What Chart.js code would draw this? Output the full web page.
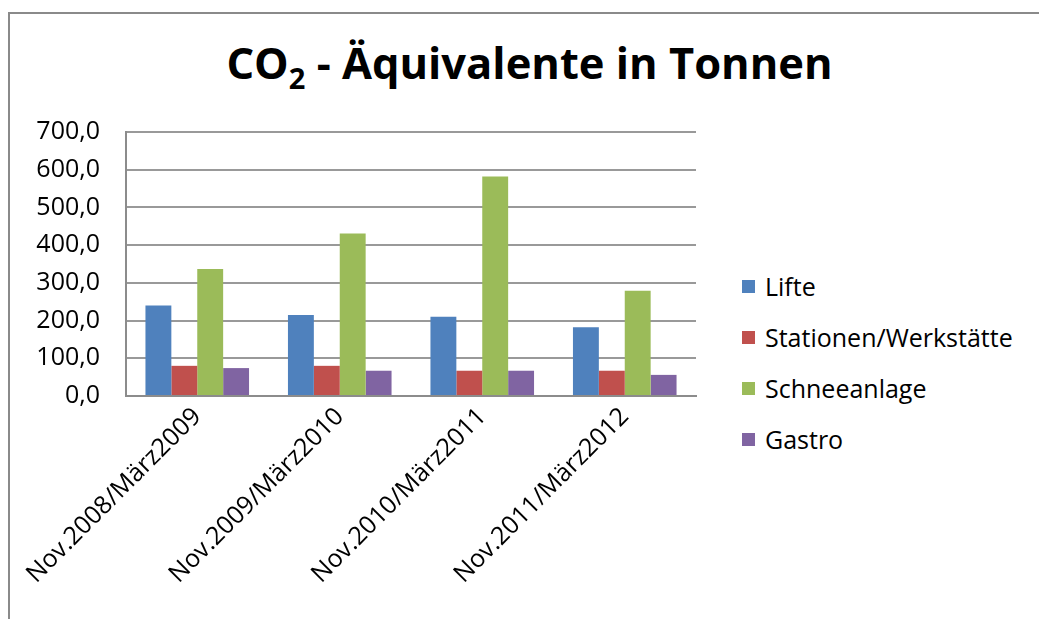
<!DOCTYPE html>
<html>
<head>
<meta charset="utf-8">
<script src="https://cdn.jsdelivr.net/npm/chart.js@4.4.1/dist/chart.umd.min.js"></script>
<style>
  body { margin: 0; background: #fff; }
  #wrap { position: relative; width: 1039px; height: 619px; overflow: hidden; font-family: "Open Sans", sans-serif; }
  #frame { position: absolute; left: 8px; top: 12px; width: 1100px; height: 700px; border-left: 2px solid #8a8a8a; border-top: 2px solid #8a8a8a; }
  #title { position: absolute; left: 20px; width: 1019px; top: 37px; text-align: center; font-weight: bold; font-size: 43.5px; color: #000; line-height: 1.2; }
  #title sub { font-size: 29px; vertical-align: -10px; line-height: 0; }
  #legend { position: absolute; left: 742px; top: 270px; }
  .item { height: 51px; display: flex; align-items: flex-start; font-size: 25px; color: #000; line-height: 32px; }
  .box { width: 13px; height: 13px; margin-right: 10px; margin-top: 10px; }
  canvas { position: absolute; left: 0; top: 0; }
</style>
</head>
<body>
<div id="wrap">
  <div id="frame"></div>
  <div id="title">CO<sub>2</sub> - Äquivalente in Tonnen</div>
  <div id="legend"></div>
  <canvas id="myChart" width="1039" height="619"></canvas>
</div>
<script>
const categories = ['Nov.2008/März2009', 'Nov.2009/März2010', 'Nov.2010/März2011', 'Nov.2011/März2012'];
const seriesNames = ['Lifte', 'Stationen/Werkstätte', 'Schneeanlage', 'Gastro'];
const lifte = [240, 215, 210, 182];
const stationen = [80, 80, 67, 67];
const schneeanlage = [337, 431, 582, 279];
const gastro = [74, 67, 67, 56];
const yTickLabels = ['0,0', '100,0', '200,0', '300,0', '400,0', '500,0', '600,0', '700,0'];
const colors = ['#4F81BD', '#C0504D', '#9BBB59', '#8064A2'];

const values = [lifte, stationen, schneeanlage, gastro];

// legend as html, built from the same arrays
const legendEl = document.getElementById('legend');
seriesNames.forEach((name, i) => {
  const row = document.createElement('div');
  row.className = 'item';
  row.innerHTML = `<div class="box" style="background:${colors[i]}"></div><span>${name}</span>`;
  legendEl.appendChild(row);
});

const ctx = document.getElementById('myChart').getContext('2d');
const myChart = new Chart(ctx, {
  type: 'bar',
  data: {
    labels: categories,
    datasets: seriesNames.map((name, i) => ({
      label: name,
      data: values[i],
      backgroundColor: colors[i],
      borderWidth: 0,
      categoryPercentage: 0.727,
      barPercentage: 1.0
    }))
  },
  options: {
    responsive: false,
    animation: false,
    devicePixelRatio: 1,
    layout: { padding: { left: 0, top: 132, right: 343, bottom: 0 } },
    plugins: {
      legend: { display: false },
      title: { display: false },
      tooltip: { enabled: false }
    },
    scales: {
      x: {
        grid: { display: false, drawTicks: false },
        border: { color: '#8c8c8c', width: 2 },
        ticks: {
          color: '#000',
          font: { family: 'Open Sans', size: 25 },
          minRotation: 45,
          maxRotation: 45,
          padding: 6
        },
        afterFit: function (scale) { scale.height = 223; }
      },
      y: {
        min: 0,
        max: 700,
        grid: { color: '#999', lineWidth: 2, drawTicks: false },
        border: { color: '#8c8c8c', width: 2 },
        ticks: {
          stepSize: 100,
          color: '#000',
          font: { family: 'Open Sans', size: 25 },
          padding: 26,
          callback: function (value, index) { return yTickLabels[index]; }
        },
        afterFit: function (scale) { scale.width = 126; }
      }
    }
  }
});
</script>
</body>
</html>
